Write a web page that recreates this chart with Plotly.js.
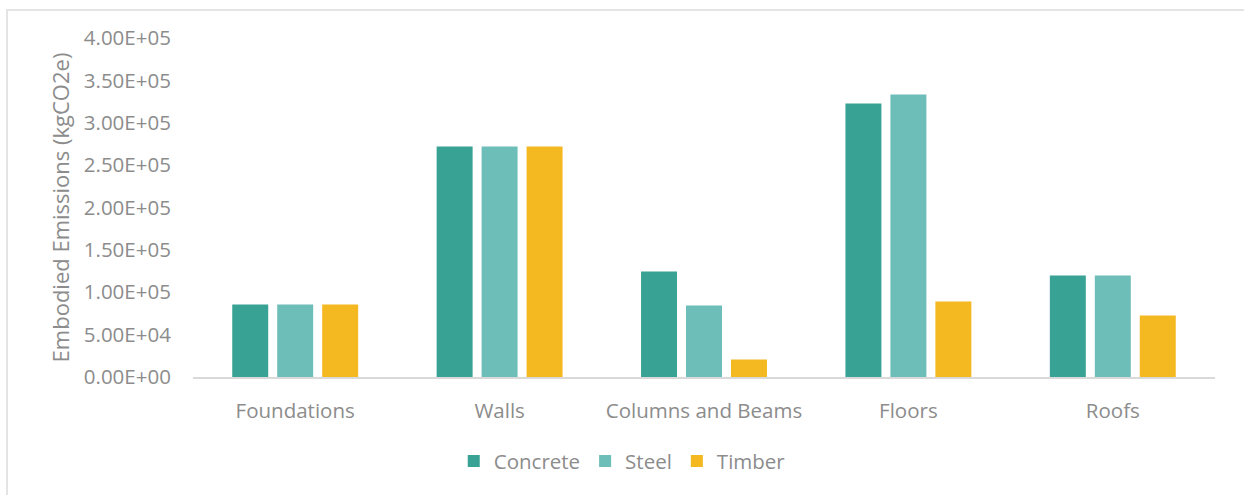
<!DOCTYPE html>
<html>
<head>
<meta charset="utf-8">
<script src="https://cdn.plot.ly/plotly-3.0.1.min.js"></script>
<style>
html,body{margin:0;padding:0;background:#fff;}
#chart{width:1244px;height:495px;}
#frame{position:absolute;left:6px;top:9px;width:1236px;height:500px;border:2px solid #e4e4e4;pointer-events:none;}
</style>
</head>
<body>
<div id="chart"></div>
<div id="frame"></div>
<script>
const categories = ["Foundations", "Walls", "Columns and Beams", "Floors", "Roofs"];
const concrete = [85500, 272000, 124500, 322700, 119800];
const steel = [85500, 272000, 84400, 333400, 119800];
const timber = [85500, 272000, 20700, 89100, 72600];
const yTickVals = [0, 50000, 100000, 150000, 200000, 250000, 300000, 350000, 400000];
const yTickText = ["0.00E+00", "5.00E+04", "1.00E+05", "1.50E+05", "2.00E+05", "2.50E+05", "3.00E+05", "3.50E+05", "4.00E+05"];

const FONT = "Open Sans, Noto Sans, sans-serif";
const GREY = "#8c8c8c";
const FS = 20.5;

const traces = [
  {type: "bar", name: "Concrete", x: categories, y: concrete, marker: {color: "#38A294"}},
  {type: "bar", name: "Steel", x: categories, y: steel, marker: {color: "#6DBDB8"}},
  {type: "bar", name: "Timber", x: categories, y: timber, marker: {color: "#F4B820"}}
];

const layout = {
  width: 1244, height: 495,
  margin: {l: 193, r: 29, t: 38, b: 118},
  paper_bgcolor: "rgba(0,0,0,0)",
  plot_bgcolor: "rgba(0,0,0,0)",
  barmode: "group",
  bargap: 0.34,
  bargroupgap: 0.2,
  font: {family: FONT, color: GREY, size: FS},
  showlegend: true,
  legend: {orientation: "h", x: 0.42, xanchor: "center", y: -0.248, yanchor: "middle",
           font: {family: FONT, color: GREY, size: FS}, itemwidth: 30, traceorder: "normal"},
  xaxis: {
    showgrid: false, zeroline: false, showline: true, linecolor: "#d9d9d9", linewidth: 2,
    ticks: "outside", ticklen: 14, tickcolor: "rgba(0,0,0,0)",
    tickfont: {family: FONT, color: GREY, size: FS}
  },
  yaxis: {
    range: [0, 400000], showgrid: false, zeroline: false, showline: false,
    tickmode: "array", tickvals: yTickVals, ticktext: yTickText,
    ticks: "outside", ticklen: 17, tickcolor: "rgba(0,0,0,0)",
    tickfont: {family: FONT, color: GREY, size: FS},
    title: {text: "Embodied Emissions (kgCO2e)", font: {family: FONT, color: GREY, size: 22}, standoff: 8}
  }
};

Plotly.newPlot("chart", traces, layout, {displayModeBar: false, staticPlot: true});
</script>
</body>
</html>
